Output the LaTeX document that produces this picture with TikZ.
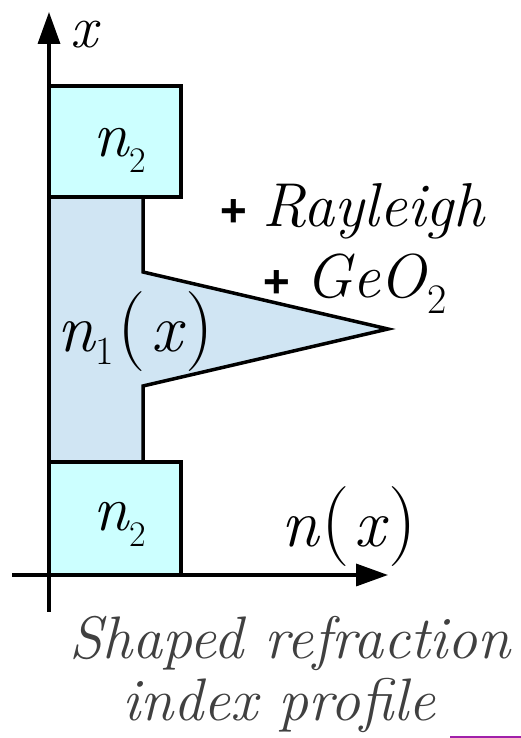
\documentclass[tikz,border=0pt]{standalone}
\usepackage{fontspec}
\newfontfamily\plusfont{Liberation Sans}
\usepackage{tikz}
\usetikzlibrary{arrows.meta, calc}

\definecolor{cladfill}{RGB}{204,255,255}
\definecolor{corefill}{RGB}{208,229,243}
\definecolor{captiongray}{RGB}{64,64,64}
\definecolor{markline}{RGB}{160,32,170}

\newcommand{\fsz}[1]{\fontsize{#1}{#1}\selectfont}

\begin{document}
\begin{tikzpicture}[x=1pt, y=1pt,
    outline/.style={line width=3.5pt},
    axis/.style={line width=3.5pt, -{Triangle[length=32pt, width=22pt]}},
    lbl/.style={inner sep=0pt, anchor=base west}]
    \useasboundingbox (0,0) rectangle (521,738);

    % Axis points
    \coordinate (O) at (49,163);
    \coordinate (Xbot) at (49,126);
    \coordinate (Xtop) at (49,726);
    \coordinate (Nleft) at (12,163);
    \coordinate (Nright) at (388,163);

    % Cladding and core corners
    \coordinate (T1) at (49,541);
    \coordinate (T2) at (181,652);
    \coordinate (B1) at (49,163);
    \coordinate (B2) at (181,276);
    \coordinate (C1) at (143,541);
    \coordinate (C2) at (143,466);
    \coordinate (P) at (388,409);
    \coordinate (C3) at (143,352);
    \coordinate (C4) at (143,276);
    \coordinate (C5) at (49,276);

    % Fill regions
    \fill[cladfill] (T1) rectangle (T2);
    \fill[cladfill] (B1) rectangle (B2);
    \fill[corefill] (T1) -- (C1) -- (C2) -- (P) -- (C3) -- (C4) -- (C5) -- cycle;

    % Outlines
    \draw[outline] (T1) rectangle (T2);
    \draw[outline] (B1) rectangle (B2);
    \draw[outline] (C1) -- (C2) -- (P) -- (C3) -- (C4);

    % Axes
    \draw[axis] (Xbot) -- (Xtop);
    \draw[axis] (Nleft) -- (Nright);

    % Labels
    \node[lbl, font=\fsz{60}\itshape] (xlab) at (70,690) {x};
    \node[lbl, font=\fsz{64}\itshape] (ntop) at (93,581)
        {n\kern1pt\raisebox{-16pt}{\fsz{36}\upshape 2}};
    \node[lbl, font=\fsz{64}\itshape] (nbot) at (93,207)
        {n\kern1pt\raisebox{-16pt}{\fsz{36}\upshape 2}};
    \node[lbl, font=\fsz{68}\itshape] (ncore) at (57,386)
        {n\kern1pt\raisebox{-13pt}{\fsz{40}\upshape 1}\kern4pt{\fsz{80}\upshape(}\kern5pt x\kern4pt{\fsz{80}\upshape)}};
    \node[lbl, font=\fsz{68}\itshape] (nx) at (281,191)
        {n\kern3pt{\fsz{80}\upshape(}\kern5pt x\kern3pt{\fsz{80}\upshape)}};

    % Dopants
    \node[lbl, font=\fsz{62}\itshape] (ray) at (219,511)
        {{\plusfont\bfseries\fsz{46}+}\kern16pt Rayleigh};
    \node[lbl, font=\fsz{62}\itshape] (geo) at (262,440)
        {{\plusfont\bfseries\fsz{46}+}\kern16pt GeO\kern1pt\raisebox{-16pt}{\fsz{42}\upshape 2}};

    % Caption
    \node[inner sep=0pt, anchor=base, font=\fsz{60}\itshape, text=captiongray] (cap1) at (290,79) {Shaped refraction};
    \node[inner sep=0pt, anchor=base, font=\fsz{60}\itshape, text=captiongray] (cap2) at (279,17) {index profile};

    % Mark under caption
    \coordinate (M1) at (450,1);
    \coordinate (M2) at (521,1);
    \draw[markline, line width=1.5pt] (M1) -- (M2);
\end{tikzpicture}
\end{document}
